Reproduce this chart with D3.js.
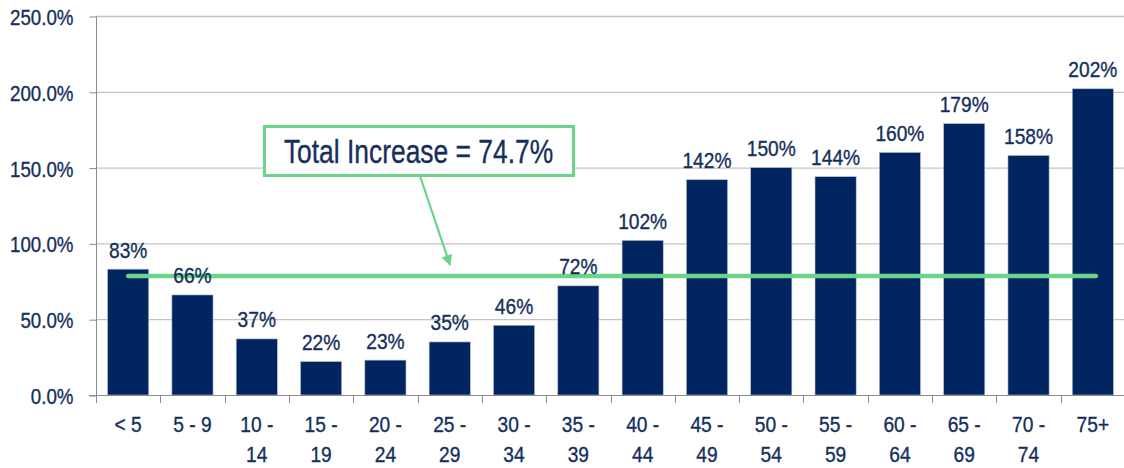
<!DOCTYPE html>
<html><head><meta charset="utf-8">
<script src="https://cdn.jsdelivr.net/npm/d3@7"></script>
<style>
html,body{margin:0;padding:0;background:#fff;}
svg{display:block;}
text{font-family:"Liberation Sans Narrow","Arial Narrow","Liberation Sans",Arial,sans-serif;}
</style></head>
<body>
<svg id="chart" width="1124" height="468"></svg>
<script>
const categories = ["< 5","5 - 9","10 - 14","15 - 19","20 - 24","25 - 29","30 - 34","35 - 39","40 - 44","45 - 49","50 - 54","55 - 59","60 - 64","65 - 69","70 - 74","75+"];
const values = [83,66,37,22,23,35,46,72,102,142,150,144,160,179,158,202];
const yTicks = [0,50,100,150,200,250];
const totalIncrease = 74.7;
const totalLineLevel = 78.5; // drawn level of the line
const annotationText = "Total Increase = " + totalIncrease + "%";

const navy = "#002561";
const textCol = "#142f5c";
const green = "#6cd38a";
const textStroke = 0.35;

const svg = d3.select("#chart");
const pLeft = 96, pRight = 1125, pTop = 16, pBottom = 395;

const x = d3.scaleBand().domain(categories).range([pLeft, pRight]).paddingInner(0.36).paddingOuter(0.18);
const y = d3.scaleLinear().domain([0, 250]).range([pBottom, pTop]);
const cx = c => x(c) + x.bandwidth() / 2;

// horizontally condensed text helper: draws text at (X, Y) squeezed by sx
function condensedText(g, X, Y, sx) {
  return g.append("text").attr("transform", `scale(${sx},1)`).attr("x", X / sx).attr("y", Y)
    .attr("stroke", textCol).attr("stroke-width", textStroke);
}

// gridlines
svg.append("g").selectAll("line").data(yTicks.filter(d => d > 0)).join("line")
  .attr("x1", pLeft).attr("x2", 1124)
  .attr("y1", d => y(d) + 0.5).attr("y2", d => y(d) + 0.5)
  .attr("stroke", "#c4c4c4").attr("stroke-width", 1.3);

// y axis
const ySx = 0.84;
const yAxis = d3.axisLeft(y).tickValues(yTicks).tickSize(7).tickPadding(16)
  .tickFormat(d => d.toFixed(1) + "%");
const gy = svg.append("g").attr("transform", `translate(${pLeft + 0.5},0.5)`).call(yAxis);
gy.select(".domain").attr("stroke", "#8c8c8c").attr("d", `M0,${pTop}V${pBottom}`);
gy.selectAll(".tick line").attr("stroke", "#8c8c8c");
gy.selectAll(".tick text").attr("fill", textCol).attr("font-size", 22.3)
  .attr("font-family", '"Liberation Sans Narrow","Arial Narrow","Liberation Sans",Arial,sans-serif')
  .attr("stroke", textCol).attr("stroke-width", textStroke)
  .attr("dy", "0.36em")
  .attr("transform", `scale(${ySx},1)`)
  .attr("x", -23 / ySx);

// bars
svg.append("g").selectAll("rect").data(values).join("rect")
  .attr("x", (d, i) => x(categories[i]))
  .attr("y", d => y(d))
  .attr("width", x.bandwidth())
  .attr("height", d => y(0) - y(d))
  .attr("fill", navy)
  .attr("stroke", "#b8c0cf").attr("stroke-width", 0.6);

// x axis
const boundaries = d3.range(categories.length + 1).map(i => pLeft + i * (pRight - pLeft) / categories.length);
const gx = svg.append("g");
gx.append("line").attr("x1", 89).attr("x2", 1124).attr("y1", pBottom + 0.5).attr("y2", pBottom + 0.5)
  .attr("stroke", "#8c8c8c");
gx.selectAll("line.t").data(boundaries).join("line").attr("class", "t")
  .attr("x1", d => Math.round(d) + 0.5).attr("x2", d => Math.round(d) + 0.5)
  .attr("y1", pBottom).attr("y2", pBottom + 8)
  .attr("stroke", "#8c8c8c");
const xSx = 0.88;
categories.forEach(c => {
  const parts = c.indexOf(" - ") >= 0 && c.length > 5 ? [c.split(" - ")[0] + " -", c.split(" - ")[1]] : [c];
  const t = condensedText(gx, cx(c), 432, xSx)
    .attr("text-anchor", "middle").attr("fill", textCol).attr("font-size", 21.8);
  parts.forEach((p, i) => t.append("tspan").attr("x", cx(c) / xSx).attr("dy", i === 0 ? 0 : 30).text(p));
});

// total line
svg.append("line")
  .attr("x1", cx(categories[0]))
  .attr("x2", cx(categories[categories.length - 1]) + 3)
  .attr("y1", y(totalLineLevel)).attr("y2", y(totalLineLevel))
  .attr("stroke", green).attr("stroke-width", 4.5).attr("stroke-linecap", "round");

// value labels (drawn above the line)
const vSx = 0.88;
const gv = svg.append("g");
values.forEach((v, i) => {
  condensedText(gv, cx(categories[i]), y(v) - 11.5, vSx)
    .attr("text-anchor", "middle").attr("fill", textCol).attr("font-size", 21.8)
    .text(v + "%");
});

// annotation arrow
svg.append("defs").append("marker").attr("id", "ah")
  .attr("viewBox", "0 0 10 10").attr("refX", 9).attr("refY", 5)
  .attr("markerWidth", 5).attr("markerHeight", 5).attr("orient", "auto")
  .append("path").attr("d", "M0,0L10,5L0,10z").attr("fill", green);
svg.append("line").attr("x1", 420).attr("y1", 176).attr("x2", 450).attr("y2", 265)
  .attr("stroke", green).attr("stroke-width", 2.2).attr("marker-end", "url(#ah)");

// annotation box
svg.append("rect").attr("x", 264.5).attr("y", 126.5).attr("width", 309).attr("height", 49)
  .attr("fill", "#fff").attr("stroke", green).attr("stroke-width", 3);
condensedText(svg, 418.5, 163, 0.8).attr("text-anchor", "middle")
  .attr("fill", textCol).attr("font-size", 33).text(annotationText);
</script>
</body></html>
